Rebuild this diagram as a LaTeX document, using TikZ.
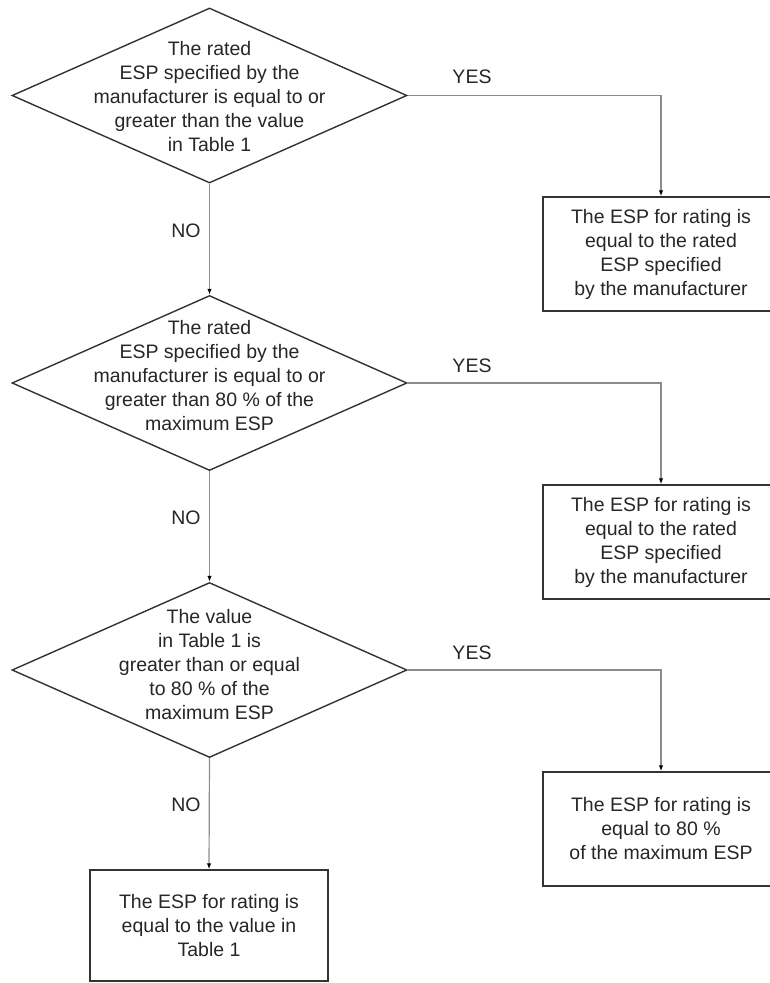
\documentclass[tikz,border=0pt]{standalone}
\usepackage{fontspec}
\setmainfont{Liberation Sans}
\usetikzlibrary{shapes.geometric,arrows.meta}
\begin{document}
\begin{tikzpicture}[x=1pt,y=-1pt,
  dia/.style={diamond, draw=black!80, line width=1.4pt, minimum width=395pt, minimum height=175pt, inner sep=0pt},
  txt/.style={align=center, font=\fontsize{19.5}{24}\selectfont, text=black!85, inner sep=0pt},
  box/.style={draw=black!80, line width=1.4pt, minimum width=236pt, minimum height=114pt, inner sep=0pt, align=center, font=\fontsize{19.5}{24}\selectfont, text=black!85},
  conn/.style={draw=black!45, line width=1.2pt, -{Latex[length=6pt,width=4.5pt,color=black]}},
  lbl/.style={font=\fontsize{19.5}{24}\selectfont, text=black!85, inner sep=0pt}
]
\useasboundingbox (0,0) rectangle (770,983);
% decisions
\node[dia] (d1) at (209.5,95.5) {};
\node[txt] (t1) at (209.5,96.5) {The rated\\ESP specified by the\\manufacturer is equal to or\\greater than the value\\in Table 1};
\node[dia] (d2) at (209.5,383) {};
\node[txt] (t2) at (209.5,376) {The rated\\ESP specified by the\\manufacturer is equal to or\\greater than 80~\% of the\\maximum ESP};
\node[dia] (d3) at (209.5,670) {};
\node[txt] (t3) at (209.5,665) {The value\\in Table 1 is\\greater than or equal\\to 80~\% of the\\maximum ESP};
% results
\node[box] (b1) at (661,254) {The ESP for rating is\\equal to the rated\\ESP specified\\by the manufacturer};
\node[box] (b2) at (661,542) {The ESP for rating is\\equal to the rated\\ESP specified\\by the manufacturer};
\node[box] (b3) at (661,829) {The ESP for rating is\\equal to 80~\%\\of the maximum ESP};
\node[box, minimum width=238pt, minimum height=111pt] (b4) at (209,925.5) {The ESP for rating is\\equal to the value in\\Table 1};
% connectors
\draw[conn] (d1.east) -| (b1.north);
\draw[conn] (d2.east) -| (b2.north);
\draw[conn] (d3.east) -| (b3.north);
\draw[conn] (d1.south) -- (d2.north);
\draw[conn] (d2.south) -- (d3.north);
\draw[conn] (d3.south) -- (b4.north);
% labels
\node[lbl] (y1) at (472,77) {YES};
\node[lbl] (y2) at (472,366) {YES};
\node[lbl] (y3) at (472,653) {YES};
\node[lbl] (n1) at (186,231) {NO};
\node[lbl] (n2) at (186,518) {NO};
\node[lbl] (n3) at (186,805) {NO};
\end{tikzpicture}
\end{document}
